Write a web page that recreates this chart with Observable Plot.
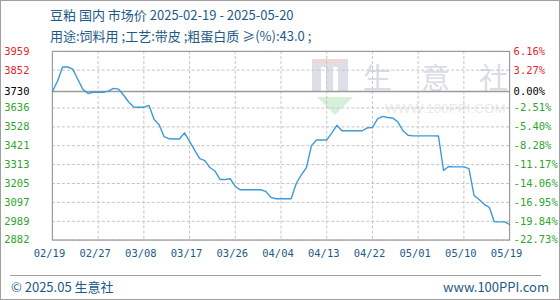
<!DOCTYPE html>
<html>
<head>
<meta charset="utf-8">
<script src="https://cdn.jsdelivr.net/npm/d3@7"></script>
<script src="https://cdn.jsdelivr.net/npm/@observablehq/plot@0.6"></script>
<style>
  html, body { margin: 0; padding: 0; background: #fff; }
  #wrap { position: relative; width: 558px; height: 298px; border: 1px solid #a0a0a0; overflow: hidden; background: #fff; font-family: "Noto Sans CJK SC", "Noto Sans", sans-serif; }
  .t { position: absolute; color: #1d5a8a; font-size: 13px; white-space: nowrap; line-height: 1; }
  #wm { position: absolute; left: 0; top: 0; width: 558px; height: 298px; z-index: 0; }
  #chart { position: absolute; left: -1px; top: -1px; z-index: 1; }
  #foot { position: absolute; left: 9px; top: 274px; width: 531px; border-top: 1px solid #a0a0a0; }
</style>
</head>
<body>
<div id="wrap">
  <div id="wm">
    <svg width="558" height="298" style="position:absolute;left:0;top:0">
      <rect x="311" y="60" width="36" height="30" fill="#dcdfe6"/>
      <rect x="320" y="66" width="5" height="24" fill="#fff"/>
      <rect x="332" y="66" width="5" height="24" fill="#fff"/>
      <rect x="311" y="58" width="36" height="4" fill="#f1d6d6"/>
      <polygon points="316,96 352,96 334,114" fill="#d6efd9"/>
      <g font-size="29" font-family="Noto Sans CJK SC" fill="#d9dde6">
        <text x="362" y="88">生</text>
        <text x="420" y="88">意</text>
        <text x="478" y="88">社</text>
      </g>
      <text x="384" y="112" font-size="13.5" font-family="Liberation Sans" fill="#eaeaea">WWW.100PPI.COM</text>
    </svg>
  </div>
  <div class="t" style="left:49px; top:7px;">豆粕 国内 市场价 2025-02-19 - 2025-05-20</div>
  <div class="t" style="left:49px; top:28px;">用途:饲料用 ;工艺:带皮 ;粗蛋白质 ≥(%):43.0 ;</div>
  <div id="chart"></div>
  <div id="foot"></div>
  <div class="t" style="left:10px; top:279px;">© 2025.05 生意社</div>
  <div class="t" style="right:10px; top:279px;">www.100PPI.com</div>
</div>
<script>
// Daily price series (元/吨), 2025-02-19 .. 2025-05-19
const prices = [
  3730, 3789, 3870, 3870, 3858, 3800, 3742, 3719, 3726, 3726,
  3726, 3732, 3748, 3744, 3710, 3670, 3642, 3640, 3640, 3651,
  3572, 3540, 3472, 3460, 3459, 3459, 3494, 3445, 3396, 3347,
  3336, 3296, 3276, 3228, 3228, 3232, 3188, 3169, 3169, 3169,
  3169, 3169, 3160, 3126, 3118, 3118, 3118, 3118, 3205, 3254,
  3296, 3421, 3453, 3453, 3453, 3494, 3537, 3506, 3506, 3506,
  3506, 3506, 3523, 3524, 3574, 3588, 3582, 3579, 3557, 3506,
  3480, 3477, 3477, 3477, 3477, 3477, 3476, 3279, 3302, 3300,
  3300, 3300, 3290, 3137, 3114, 3086, 3069, 2986, 2986, 2986,
  2971
];
const baseValue = 3730;
const yTicks = [3959, 3852, 3730, 3636, 3528, 3421, 3313, 3205, 3097, 2989, 2882];
const pctLabels = ["6.16%", "3.27%", "0.00%", "-2.51%", "-5.40%", "-8.28%", "-11.17%", "-14.06%", "-16.95%", "-19.84%", "-22.73%"];
const xTickIndex = [0, 9, 18, 27, 36, 45, 54, 63, 72, 81, 90];
const xLabels = ["02/19", "02/27", "03/08", "03/17", "03/26", "04/04", "04/13", "04/22", "05/01", "05/10", "05/19"];

const tickColor = v => v > baseValue ? "#e3262b" : v === baseValue ? "#000000" : "#2ea52e";
const axisFont = "DejaVu Sans Mono";

const chart = Plot.plot({
  width: 560,
  height: 276,
  marginTop: 51,
  marginRight: 50,
  marginBottom: 36,
  marginLeft: 52,
  style: { background: "transparent", fontFamily: axisFont, fontSize: "10px" },
  x: { domain: [0, 90], axis: null },
  y: { domain: [2882, 3959], axis: null },
  color: { type: "identity" },
  marks: [
    Plot.gridY(yTicks.filter(v => v !== baseValue), { stroke: "#c4c4c4", strokeOpacity: 1, strokeDasharray: "3,2" }),
    Plot.gridX(xTickIndex.slice(1, -1), { stroke: "#c4c4c4", strokeOpacity: 1, strokeDasharray: "3,2" }),
    Plot.ruleY([baseValue], { stroke: "#9a9a9a", strokeWidth: 1.6 }),
    Plot.frame({ stroke: "#9a9a9a", strokeWidth: 1.2 }),
    Plot.line(prices, { x: (d, i) => i, y: d => d, stroke: "#3c9ad8", strokeWidth: 1.4 }),
    Plot.text(yTicks, { y: d => d, text: d => String(d), frameAnchor: "left", textAnchor: "end", dx: -23, fill: d => tickColor(d), fontSize: 10.5 }),
    Plot.text(yTicks, { y: d => d, text: (d, i) => pctLabels[i], frameAnchor: "right", textAnchor: "start", dx: 4, fill: d => tickColor(d), fontSize: 10.5 }),
    Plot.text(xTickIndex, { x: d => d, text: (d, i) => xLabels[i], frameAnchor: "bottom", dy: 17, dx: -3, fill: "#1d5a8a", fontSize: 10.5 })
  ]
});
document.getElementById("chart").appendChild(chart);
</script>
</body>
</html>
